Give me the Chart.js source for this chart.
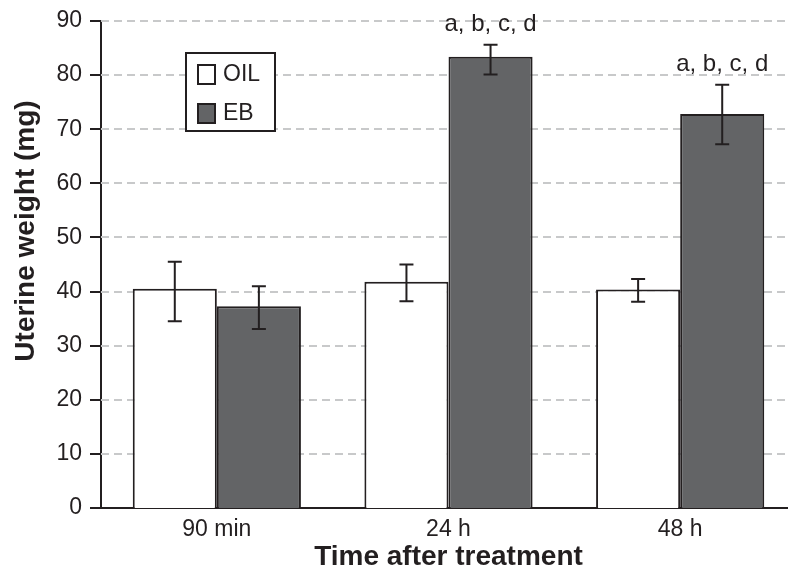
<!DOCTYPE html>
<html>
<head>
<meta charset="utf-8">
<script src="https://cdn.jsdelivr.net/npm/chart.js@4.4.0/dist/chart.umd.min.js"></script>
<style>
  html, body { margin: 0; padding: 0; background: #fff; overflow: hidden; }
  #wrap { width: 796px; height: 574px; }
</style>
</head>
<body>
<div id="wrap"><canvas id="uterineChart" width="796" height="574"></canvas></div>
<script>
// Dữ liệu
const categories = ['90 min', '24 h', '48 h'];
const oilValues = [40.5, 41.8, 40.4];
const oilErrLow = [34.5, 38.2, 38.1];
const oilErrHigh = [45.5, 45.0, 42.3];
const ebValues = [37.3, 83.4, 72.8];
const ebErrLow = [33.1, 80.1, 67.2];
const ebErrHigh = [41.0, 85.6, 78.2];
const ebLetters = ['', 'a, b, c, d', 'a, b, c, d'];
const yTicks = [0, 10, 20, 30, 40, 50, 60, 70, 80, 90];

const FONT = '"Liberation Sans", Arial, Helvetica, sans-serif';
const INK = '#231f20';
const GRID = '#c8c9ca';

// Lưới nét đứt và vạch chia trục y
const tickMarkPlugin = {
    id: 'tickMarks',
    beforeDatasetsDraw(chart) {
        const ctx = chart.ctx;
        const y = chart.scales.y;
        const a = chart.chartArea;
        ctx.save();
        ctx.strokeStyle = GRID;
        ctx.lineWidth = 2;
        ctx.setLineDash([8, 5]);
        yTicks.forEach(function(v) {
            if (v === 0) return;
            const py = Math.round(y.getPixelForValue(v));
            ctx.beginPath(); ctx.moveTo(a.left, py); ctx.lineTo(a.right, py); ctx.stroke();
        });
        ctx.setLineDash([]);
        ctx.strokeStyle = INK;
        yTicks.forEach(function(v) {
            const py = Math.round(y.getPixelForValue(v));
            ctx.beginPath(); ctx.moveTo(a.left - 11, py); ctx.lineTo(a.left, py); ctx.stroke();
        });
        ctx.restore();
    }
};

// Vẽ thanh sai số và chữ chú thích
const errorBarPlugin = {
    id: 'errorBars',
    afterDatasetsDraw(chart) {
        const ctx = chart.ctx;
        const y = chart.scales.y;
        const sets = [[oilErrLow, oilErrHigh, null], [ebErrLow, ebErrHigh, ebLetters]];
        ctx.save();
        sets.forEach(function(s, di) {
            const meta = chart.getDatasetMeta(di);
            meta.data.forEach(function(bar, i) {
                const top = y.getPixelForValue(s[1][i]);
                const bot = y.getPixelForValue(s[0][i]);
                ctx.strokeStyle = INK;
                ctx.lineWidth = 2;
                ctx.beginPath();
                ctx.moveTo(bar.x, top); ctx.lineTo(bar.x, bot);
                ctx.moveTo(bar.x - 7, top); ctx.lineTo(bar.x + 7, top);
                ctx.moveTo(bar.x - 7, bot); ctx.lineTo(bar.x + 7, bot);
                ctx.stroke();
                if (s[2] && s[2][i]) {
                    ctx.fillStyle = INK;
                    ctx.font = '24px ' + FONT;
                    ctx.textAlign = 'center';
                    ctx.textBaseline = 'alphabetic';
                    ctx.fillText(s[2][i], bar.x, top - 14);
                }
            });
        });
        ctx.restore();
    }
};

// Chú giải trong khung + tiêu đề trục y
const boxLegendPlugin = {
    id: 'boxLegend',
    afterDraw(chart) {
        const ctx = chart.ctx;
        ctx.save();
        ctx.fillStyle = '#fff';
        ctx.fillRect(186, 53, 89, 78);
        ctx.strokeStyle = INK;
        ctx.lineWidth = 2;
        ctx.strokeRect(186, 53, 89, 78);
        chart.data.datasets.forEach(function(ds, i) {
            const cy = 74 + i * 39;
            ctx.fillStyle = ds.backgroundColor;
            ctx.fillRect(198, cy - 9, 17, 19);
            ctx.strokeRect(198, cy - 9, 17, 19);
            ctx.fillStyle = INK;
            ctx.font = '23px ' + FONT;
            ctx.textAlign = 'left';
            ctx.textBaseline = 'middle';
            ctx.fillText(ds.label, 223, cy + 1);
        });
        ctx.translate(26, 231);
        ctx.rotate(-Math.PI / 2);
        ctx.font = 'bold 28px ' + FONT;
        ctx.textAlign = 'center';
        ctx.textBaseline = 'middle';
        ctx.fillText('Uterine weight (mg)', 0, 0);
        ctx.restore();
    }
};

const chartData = {
    labels: categories,
    datasets: [{
        label: 'OIL',
        data: oilValues,
        backgroundColor: '#ffffff',
        borderColor: INK,
        borderWidth: 2,
        borderSkipped: 'bottom'
    }, {
        label: 'EB',
        data: ebValues,
        backgroundColor: '#636466',
        borderColor: INK,
        borderWidth: 2,
        borderSkipped: 'bottom'
    }]
};

const chartOptions = {
    responsive: false,
    animation: false,
    layout: { padding: { top: 21, right: 0, left: 0, bottom: 0 } },
    datasets: { bar: { categoryPercentage: 0.726, barPercentage: 1.0 } },
    plugins: { legend: { display: false }, tooltip: { enabled: false } },
    scales: {
        x: {
            grid: { display: false, drawTicks: false },
            border: { color: INK, width: 2 },
            ticks: { color: INK, font: { family: FONT, size: 23 }, padding: 8 },
            title: {
                display: true,
                text: 'Time after treatment',
                color: INK,
                font: { family: FONT, size: 28, weight: 'bold' },
                padding: { top: 0, bottom: 0 }
            },
            afterFit: function(scale) { scale.height = 66; }
        },
        y: {
            min: 0,
            max: 90,
            afterBuildTicks: function(scale) {
                scale.ticks = yTicks.map(function(v) { return { value: v }; });
            },
            grid: { display: false, drawTicks: false },
            border: { color: INK, width: 2 },
            ticks: { color: INK, font: { family: FONT, size: 23 }, padding: 19 },
            afterFit: function(scale) {
                scale.width = 101;
                scale.paddingTop = 0;
                scale.paddingBottom = 0;
            }
        }
    }
};

const ctx = document.getElementById('uterineChart').getContext('2d');
const uterineChart = new Chart(ctx, {
    type: 'bar',
    data: chartData,
    options: chartOptions,
    plugins: [tickMarkPlugin, errorBarPlugin, boxLegendPlugin]
});
</script>
</body>
</html>
